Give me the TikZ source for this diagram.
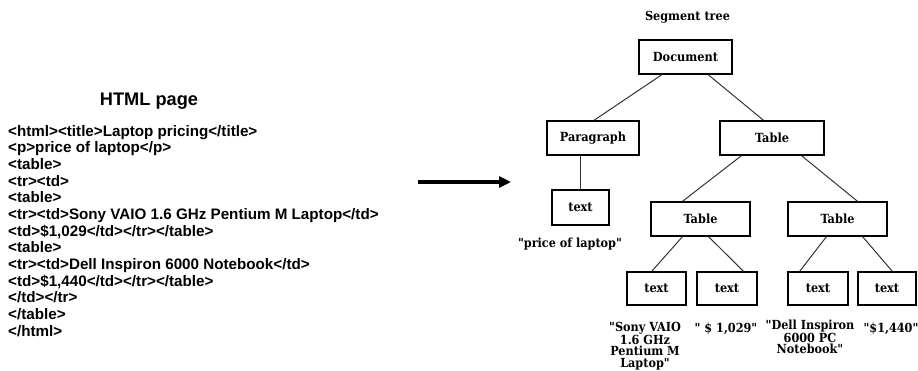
\documentclass[tikz,border=0pt]{standalone}
\usepackage{fontspec}
\usetikzlibrary{arrows.meta,calc}
\setmainfont{Liberation Sans}
\newfontfamily\treefont{DejaVu Serif Condensed}

% draw a tree link between fractional points on the parent's bottom and child's top
\newcommand\treelink[4]{%
  \draw[link] ($(#1.south west)!#2!(#1.south east)$) -- ($(#3.north west)!#4!(#3.north east)$);}

\begin{document}
\begin{tikzpicture}[x=1pt,y=-1pt,
  box/.style={draw=black, line width=1.3pt, inner sep=0pt, minimum height=34pt,
    font=\treefont\bfseries\fontsize{12.6}{14}\selectfont},
  link/.style={draw=black!80, line width=1pt},
  codeline/.style={anchor=base west, inner sep=0pt, font=\bfseries\fontsize{15.2}{16}\selectfont},
  leaflabel/.style={anchor=north, inner sep=0pt, align=center,
    font=\treefont\bfseries\fontsize{12.5}{11.4}\selectfont},
]
\useasboundingbox (0,0) rectangle (918,370);

% ---- HTML source ----
\node[anchor=base, inner sep=0pt, font=\bfseries\fontsize{18.2}{20}\selectfont] (htmltitle) at (149,105) {HTML page};
\node[codeline] (c1)  at (8,136.0) {<html><title>Laptop pricing</title>};
\node[codeline] (c2)  at (8,152.7) {<p>price of laptop</p>};
\node[codeline] (c3)  at (8,169.3) {<table>};
\node[codeline] (c4)  at (8,186.0) {<tr><td>};
\node[codeline] (c5)  at (8,202.7) {<table>};
\node[codeline] (c6)  at (8,219.3) {<tr><td>Sony VAIO 1.6 GHz Pentium M Laptop</td>};
\node[codeline] (c7)  at (8,236.0) {<td>\$1,029</td></tr></table>};
\node[codeline] (c8)  at (8,252.7) {<table>};
\node[codeline] (c9)  at (8,269.3) {<tr><td>Dell Inspiron 6000 Notebook</td>};
\node[codeline] (c10) at (8,286.0) {<td>\$1,440</td></tr></table>};
\node[codeline] (c11) at (8,302.7) {</td></tr>};
\node[codeline] (c12) at (8,319.3) {</table>};
\node[codeline] (c13) at (8,336.0) {</html>};

% ---- conversion arrow ----
\coordinate (arrfrom) at (418,182);
\coordinate (arrto) at (511,182);
\draw[line width=4pt, -{Triangle[length=12pt,width=11pt]}] (arrfrom) -- (arrto);

% ---- segment tree ----
\node[anchor=base, inner sep=0pt, font=\treefont\bfseries\fontsize{12.5}{15}\selectfont] (treetitle) at (687.5,20) {Segment tree};

\node[box, minimum width=93pt]  (doc)   at (685.5,57)   {Document};
\node[box, minimum width=92pt]  (para)  at (593,138)    {Paragraph};
\node[box, minimum width=104pt] (tab)   at (772,138)    {Table};
\node[box, minimum width=57pt, minimum height=35pt] (txt0) at (580.5,207.5) {text};
\node[box, minimum width=99pt]  (tabL)  at (700.5,219)  {Table};
\node[box, minimum width=99pt]  (tabR)  at (837.5,219)  {Table};
\node[box, minimum width=59pt, minimum height=33pt] (t1) at (656.5,288.5) {text};
\node[box, minimum width=60pt, minimum height=33pt] (t2) at (727,288.5)   {text};
\node[box, minimum width=60pt, minimum height=33pt] (t3) at (818,288.5)   {text};
\node[box, minimum width=58pt, minimum height=33pt] (t4) at (887,288.5)   {text};

\treelink{doc}{0.25}{para}{0.51}
\treelink{doc}{0.74}{tab}{0.42}
\draw[link] (txt0.north |- para.south) -- (txt0.north);
\treelink{tab}{0.21}{tabL}{0.32}
\treelink{tab}{0.78}{tabR}{0.70}
\treelink{tabL}{0.32}{t1}{0.42}
\treelink{tabL}{0.58}{t2}{0.77}
\treelink{tabR}{0.39}{t3}{0.20}
\treelink{tabR}{0.75}{t4}{0.59}

% ---- extracted strings ----
\node[leaflabel] (l0) at (570,238) {"price of laptop"};
\node[leaflabel] (l1) at (645,322) {"Sony VAIO\\1.6 GHz\\Pentium M\\Laptop"};
\node[leaflabel] (l2) at (726,323) {" \$ 1,029"};
\node[leaflabel] (l3) at (810,320) {"Dell Inspiron\\6000 PC\\Notebook"};
\node[leaflabel] (l4) at (891,323) {"\$1,440"};
\end{tikzpicture}
\end{document}
